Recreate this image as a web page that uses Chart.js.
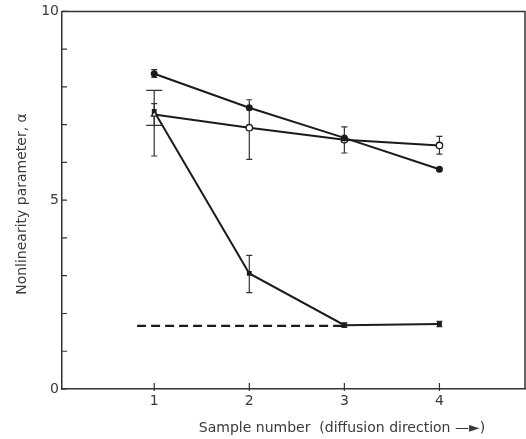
<!DOCTYPE html>
<html>
<head>
<meta charset="utf-8">
<script src="https://cdn.jsdelivr.net/npm/chart.js@4/dist/chart.umd.min.js"></script>
<style>
html, body { margin: 0; padding: 0; background: #fff; overflow: hidden; }
</style>
</head>
<body>
<canvas id="c" width="526" height="439"></canvas>
<script>
// sample numbers along the diffusion direction
var samples = [1, 2, 3, 4]

// filled dots (top curve)
var alphaA = [8.35, 7.45, 6.65, 5.82]
var lowA = [8.25, null, null, null]
var highA = [8.46, null, null, null]

// open circles
var alphaB = [7.27, 6.92, 6.6, 6.45]
var lowB = [6.17, 6.08, 6.25, 6.22]
var highB = [7.56, 7.66, 6.94, 6.69]

// steep curve
var alphaC = [7.35, 3.06, 1.69, 1.72]
var lowC = [6.98, 2.55, 1.63, 1.65]
var highC = [7.91, 3.54, 1.75, 1.79]

// dashed reference level
var dashX = [0.82, 3]
var dashY = [1.67, 1.67]

var yTicks = [0, 1, 2, 3, 4, 5, 6, 7, 8, 9, 10]

var ink = '#1b1b1b'
var textCol = '#3a3a3a'
var fontFam = '"DejaVu Sans", sans-serif'

function pts(xs, ys) {
	return xs.map(function (x, i) { return { x: x, y: ys[i] } })
}

// error bars, caps in px (half width)
var bars = [
	{ low: lowA, high: highA, caps: [3, 3, 3, 3] },
	{ low: lowB, high: highB, caps: [3, 3, 3, 3] },
	{ low: lowC, high: highC, caps: [8, 3, 3, 3] }
]

var errorBars = {
	id: 'errorBars',
	beforeDatasetsDraw: function (chart) {
		var ctx = chart.ctx
		var xs = chart.scales.x, ys = chart.scales.y
		ctx.save()
		ctx.strokeStyle = '#333'
		ctx.lineWidth = 1.2
		bars.forEach(function (b) {
			for (var i = 0; i < samples.length; i++) {
				if (b.low[i] == null) continue
				var px = xs.getPixelForValue(samples[i])
				var y1 = ys.getPixelForValue(b.low[i])
				var y2 = ys.getPixelForValue(b.high[i])
				var w = b.caps[i]
				ctx.beginPath()
				ctx.moveTo(px, y1); ctx.lineTo(px, y2)
				ctx.moveTo(px - w, y1); ctx.lineTo(px + w, y1)
				ctx.moveTo(px - w, y2); ctx.lineTo(px + w, y2)
				ctx.stroke()
			}
		})
		ctx.restore()
	}
}

// frame, inward ticks and axis titles
var frame = {
	id: 'frame',
	afterDraw: function (chart) {
		var ctx = chart.ctx
		var a = chart.chartArea
		var xs = chart.scales.x, ys = chart.scales.y
		ctx.save()
		ctx.strokeStyle = '#333'
		ctx.lineWidth = 1.5
		ctx.beginPath()
		ctx.moveTo(a.left, a.top); ctx.lineTo(a.right, a.top); ctx.lineTo(a.right, a.bottom)
		ctx.stroke()
		ctx.lineWidth = 1.2
		ctx.beginPath()
		yTicks.forEach(function (v) {
			var py = ys.getPixelForValue(v)
			ctx.moveTo(a.left, py); ctx.lineTo(a.left + 5, py)
		})
		samples.forEach(function (v) {
			var px = xs.getPixelForValue(v)
			ctx.moveTo(px, a.bottom - 6); ctx.lineTo(px, a.bottom + 2)
		})
		ctx.stroke()

		ctx.fillStyle = textCol
		ctx.font = '14px ' + fontFam
		ctx.textAlign = 'center'
		ctx.textBaseline = 'middle'
		ctx.fillText('Sample number  (diffusion direction \u2014\u25BA)', 342, 428)
		ctx.translate(22, 204)
		ctx.rotate(-Math.PI / 2)
		ctx.fillText('Nonlinearity parameter, \u03B1', 0, 0)
		ctx.restore()
	}
}

new Chart(document.getElementById('c'), {
	type: 'line',
	data: {
		datasets: [
			{
				data: pts(samples, alphaA),
				borderColor: ink, borderWidth: 2,
				pointRadius: 2.5, pointBackgroundColor: ink, pointBorderColor: ink
			},
			{
				data: pts(samples, alphaB),
				borderColor: ink, borderWidth: 2,
				pointStyle: ['triangle', 'circle', 'circle', 'circle'],
				pointRadius: 3.2, pointBackgroundColor: '#fff', pointBorderColor: ink, pointBorderWidth: 1.3
			},
			{
				data: pts(samples, alphaC),
				borderColor: ink, borderWidth: 2,
				pointStyle: 'rect', pointRadius: 2, pointBackgroundColor: ink, pointBorderColor: ink
			},
			{
				data: pts(dashX, dashY),
				borderColor: ink, borderWidth: 2.2, borderDash: [9, 5],
				pointRadius: 0
			}
		]
	},
	options: {
		responsive: false,
		animation: false,
		devicePixelRatio: 1,
		layout: { autoPadding: false, padding: { top: 11, right: 1, left: 0, bottom: 0 } },
		plugins: { legend: { display: false }, tooltip: { enabled: false } },
		elements: { line: { tension: 0 } },
		scales: {
			x: {
				type: 'linear', min: 0.03, max: 4.9,
				afterBuildTicks: function (s) { s.ticks = samples.map(function (v) { return { value: v } }) },
				afterFit: function (s) { s.height = 50 },
				grid: { display: false, drawTicks: false },
				border: { color: '#333', width: 1.5 },
				ticks: { padding: 4, color: textCol, font: { family: fontFam, size: 14 } }
			},
			y: {
				min: 0, max: 10,
				afterBuildTicks: function (s) { s.ticks = yTicks.map(function (v) { return { value: v } }) },
				afterFit: function (s) { s.width = 62 },
				grid: { display: false, drawTicks: false },
				border: { color: '#333', width: 1.5 },
				ticks: {
					padding: 3, color: textCol, font: { family: fontFam, size: 14 },
					callback: function (v) { return v % 5 === 0 ? v : '' }
				}
			}
		}
	},
	plugins: [errorBars, frame]
})
</script>
</body>
</html>
